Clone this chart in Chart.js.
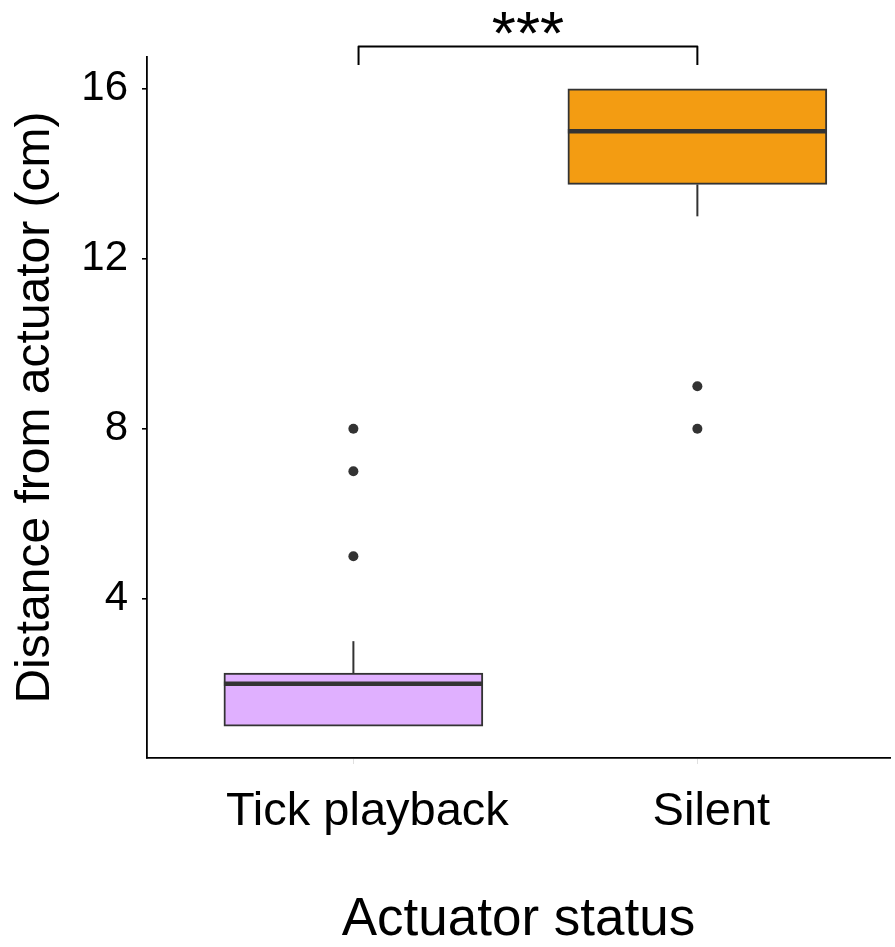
<!DOCTYPE html>
<html>
<head>
<meta charset="utf-8">
<script src="https://cdn.jsdelivr.net/npm/chart.js@4.4.1/dist/chart.umd.min.js"></script>
<style>
  html, body { margin: 0; padding: 0; background: #fff; overflow: hidden; }
  canvas { display: block; }
</style>
</head>
<body>
<canvas id="boxChart" width="895" height="947"></canvas>
<script>
// categories on the x axis (positions 1 and 2)
const categories = ['Tick playback', 'Silent'];
const positions = [1, 2];

// five-number summaries per group
const lowerWhisker = [1, 13];
const q1 = [1, 13.75];
const medians = [2, 15];
const q3 = [2.25, 16];
const upperWhisker = [3, 16];

// points beyond the whiskers
const outliers = [
    { x: 1, y: 5 }, { x: 1, y: 7 }, { x: 1, y: 8 },
    { x: 2, y: 8 }, { x: 2, y: 9 }
];

const yTicks = [4, 8, 12, 16];
const boxColors = ['#E0B0FF', '#F39C12'];

// significance bracket between the two groups
const bracketFrom = 1.015;
const bracketTo = 2;
const bracketY = 17;
const bracketTip = 16.56;
const bracketLabel = '***';

const FONT = "'Liberation Sans', Arial, sans-serif";
const INK = '#333333';

const boxData = positions.map((p, i) => ({ x: p, y: [q1[i], q3[i]] }));

const boxExtras = {
    id: 'boxExtras',
    afterDatasetsDraw(chart) {
        const { ctx, scales: { x, y } } = chart;
        const bars = chart.getDatasetMeta(0).data;
        ctx.save();
        ctx.strokeStyle = INK;
        positions.forEach((p, i) => {
            const px = x.getPixelForValue(p);
            const half = bars[i].width / 2;
            // whiskers
            ctx.lineWidth = 2;
            ctx.beginPath();
            ctx.moveTo(px, y.getPixelForValue(q3[i]));
            ctx.lineTo(px, y.getPixelForValue(upperWhisker[i]));
            ctx.moveTo(px, y.getPixelForValue(q1[i]));
            ctx.lineTo(px, y.getPixelForValue(lowerWhisker[i]));
            ctx.stroke();
            // median
            ctx.lineWidth = 4.5;
            ctx.beginPath();
            const my = y.getPixelForValue(medians[i]);
            ctx.moveTo(px - half, my);
            ctx.lineTo(px + half, my);
            ctx.stroke();
        });
        ctx.restore();
    },
    afterDraw(chart) {
        const { ctx, scales: { x, y } } = chart;
        const x0 = x.getPixelForValue(bracketFrom);
        const x1 = x.getPixelForValue(bracketTo);
        const yb = y.getPixelForValue(bracketY);
        const yt = y.getPixelForValue(bracketTip);
        ctx.save();
        ctx.strokeStyle = '#000';
        ctx.lineWidth = 2;
        ctx.lineJoin = 'round';
        ctx.beginPath();
        ctx.moveTo(x0, yt);
        ctx.lineTo(x0, yb);
        ctx.lineTo(x1, yb);
        ctx.lineTo(x1, yt);
        ctx.stroke();
        ctx.fillStyle = '#000';
        ctx.font = '62px ' + FONT;
        ctx.textAlign = 'center';
        ctx.textBaseline = 'alphabetic';
        ctx.fillText(bracketLabel, (x0 + x1) / 2, yb + 8);
        ctx.restore();
    }
};

new Chart(document.getElementById('boxChart'), {
    type: 'bar',
    data: {
        datasets: [{
            data: boxData,
            backgroundColor: boxColors,
            borderColor: INK,
            borderWidth: 2,
            borderSkipped: false,
            barThickness: 259
        }, {
            type: 'scatter',
            data: outliers,
            pointRadius: 5,
            pointBackgroundColor: INK,
            pointBorderWidth: 0
        }]
    },
    options: {
        responsive: false,
        animation: false,
        layout: { padding: { top: 57, left: 0, right: 0, bottom: 0 } },
        plugins: { legend: { display: false }, tooltip: { enabled: false } },
        scales: {
            x: {
                type: 'linear',
                offset: false,
                min: 0.4,
                max: 2.56,
                afterFit(scale) { scale.height = 189; },
                afterBuildTicks(scale) { scale.ticks = positions.map(v => ({ value: v })); },
                border: { color: '#000', width: 1.8 },
                grid: { offset: false, drawOnChartArea: false, tickLength: 6, color: 'rgba(0,0,0,0.12)', lineWidth: 1 },
                ticks: {
                    padding: 20,
                    labelOffset: 14,
                    color: '#000',
                    font: { family: FONT, size: 47 },
                    callback: (v) => categories[positions.indexOf(v)]
                },
                title: {
                    display: true,
                    text: 'Actuator status',
                    color: '#000',
                    font: { family: FONT, size: 53, lineHeight: 1 },
                    padding: { top: 0, bottom: 0 }
                }
            },
            y: {
                min: 0.25,
                max: 16.75,
                afterFit(scale) { scale.width = 147; },
                afterBuildTicks(scale) { scale.ticks = yTicks.map(v => ({ value: v })); },
                border: { color: '#000', width: 1.8 },
                grid: { drawOnChartArea: false, tickLength: 5, color: '#000', lineWidth: 1.6 },
                ticks: {
                    padding: 14,
                    color: '#000',
                    font: { family: FONT, size: 42 }
                },
                title: {
                    display: true,
                    text: 'Distance from actuator (cm)',
                    color: '#000',
                    font: { family: FONT, size: 48, lineHeight: 1.2 },
                    padding: { top: 7, bottom: 0 }
                }
            }
        }
    },
    plugins: [boxExtras]
});
</script>
</body>
</html>
